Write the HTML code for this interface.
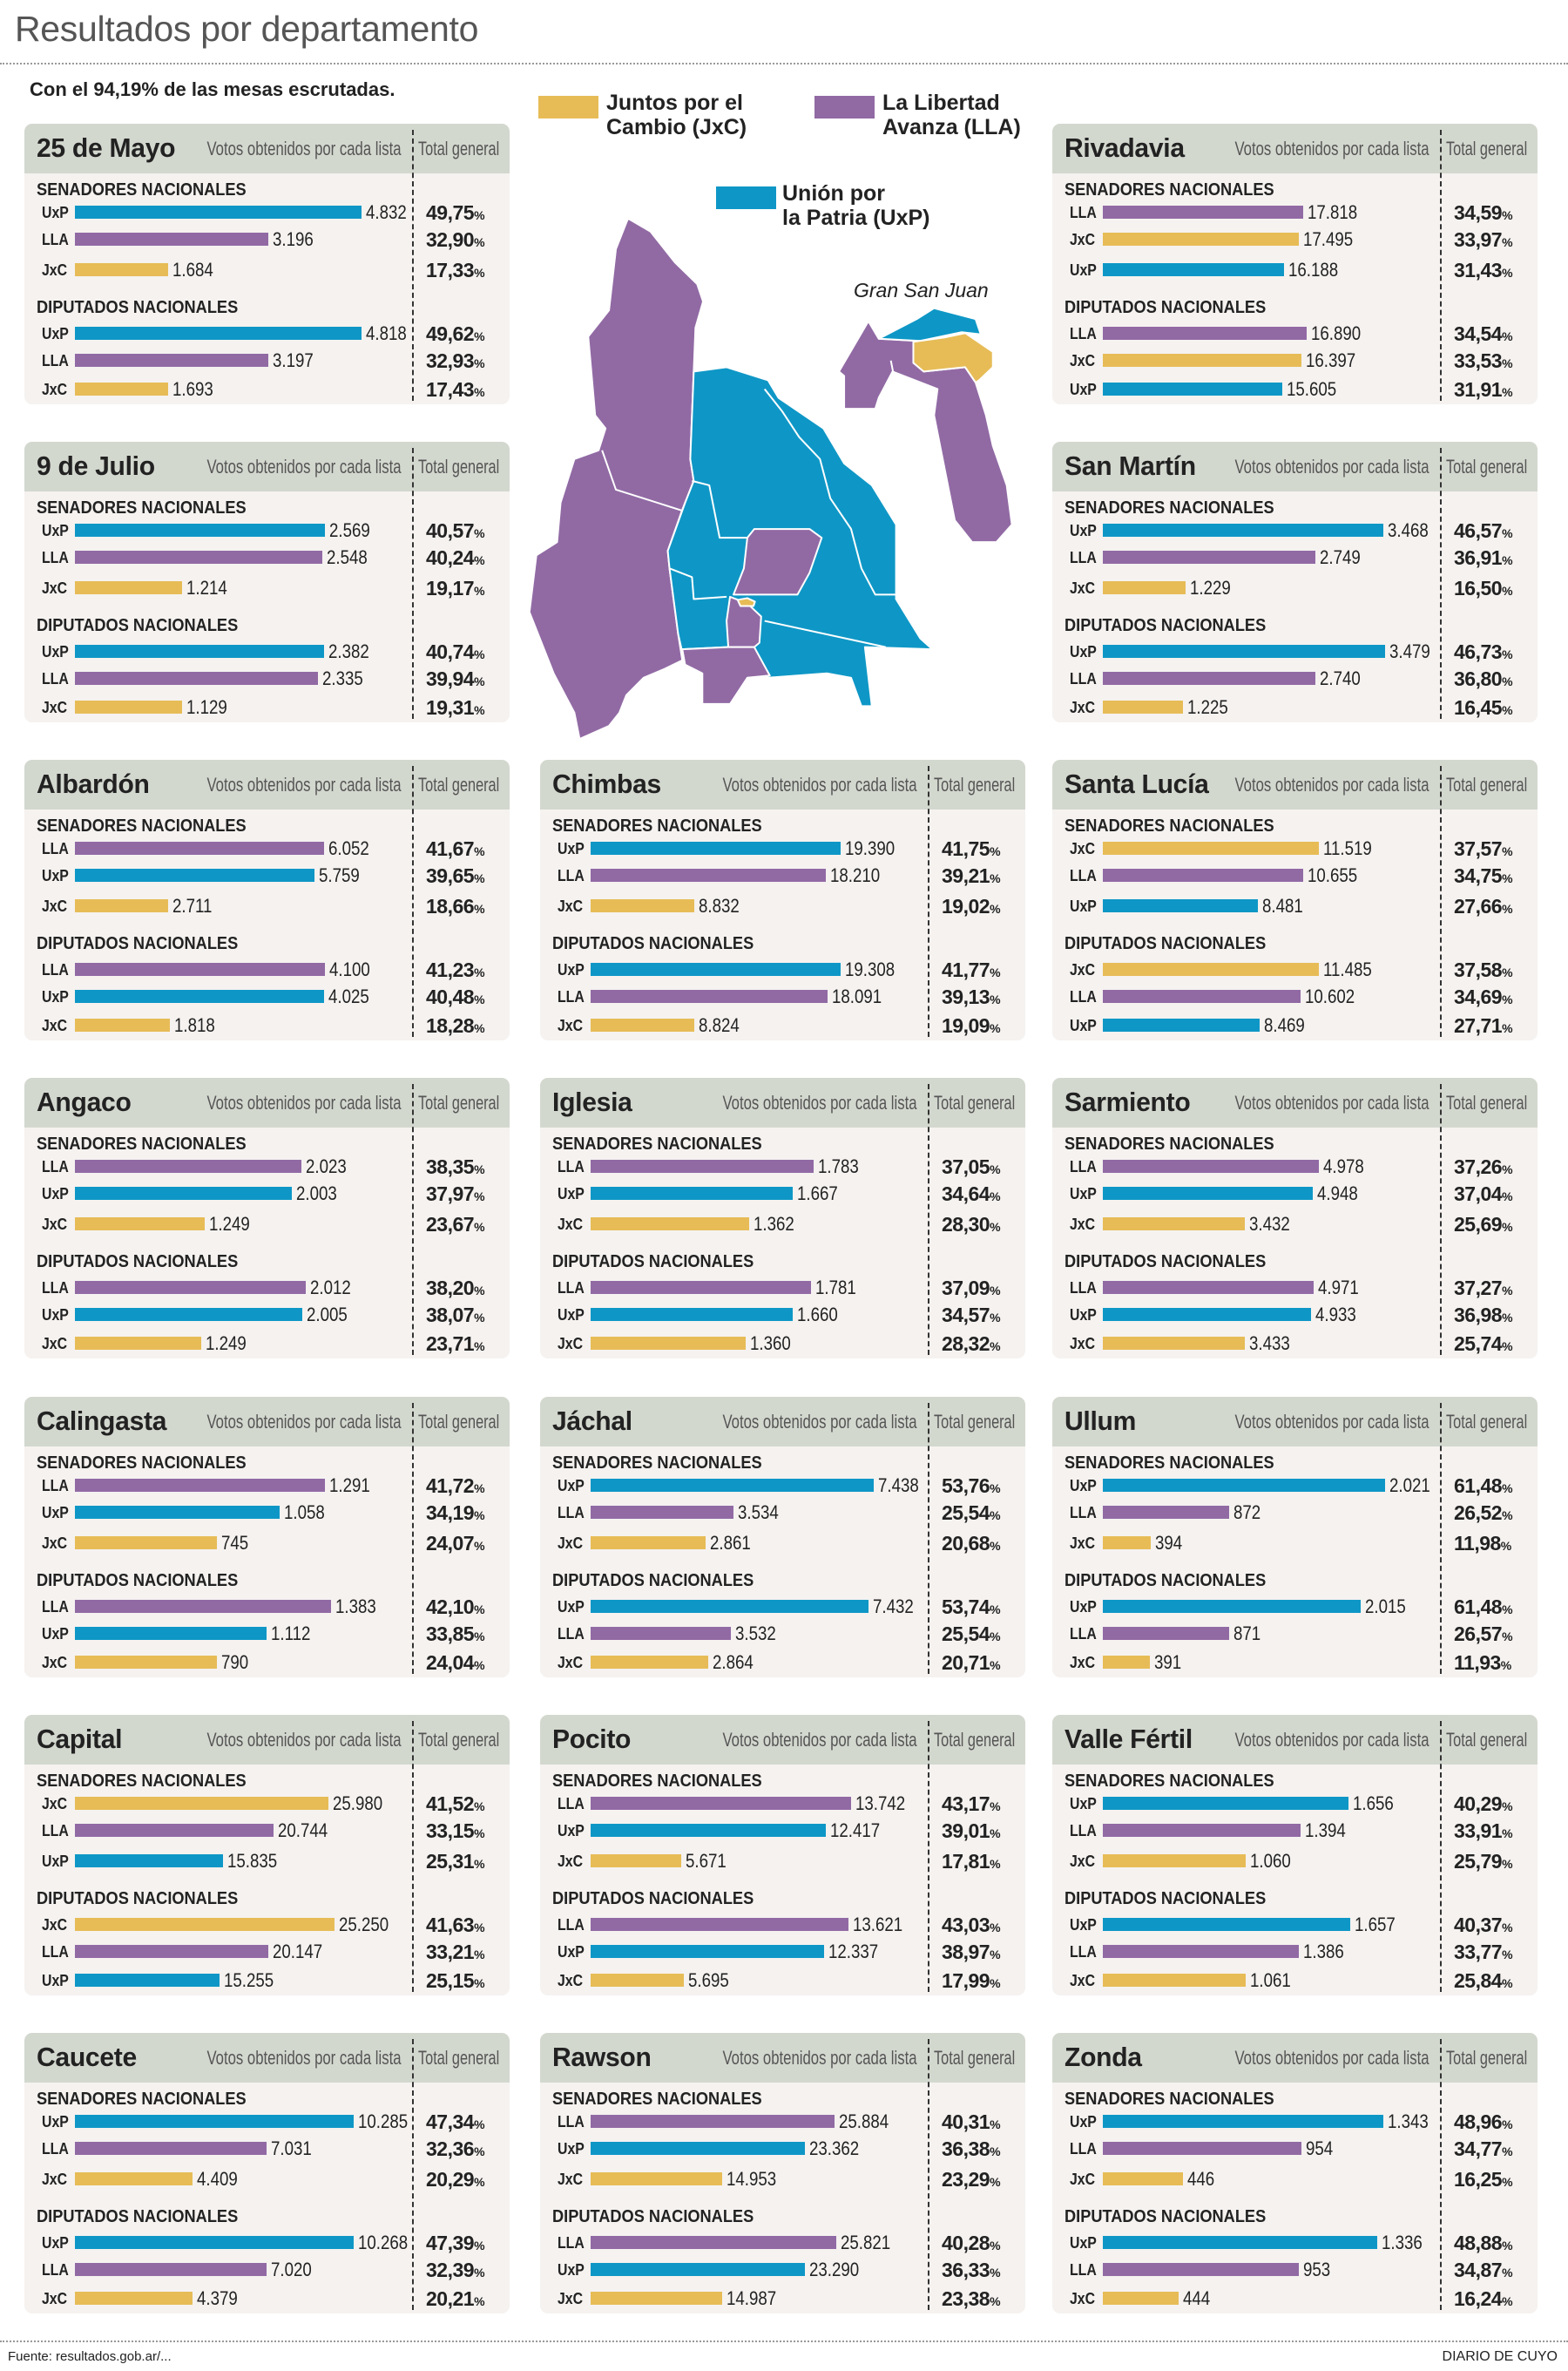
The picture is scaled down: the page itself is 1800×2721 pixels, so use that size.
<!DOCTYPE html>
<html><head><meta charset="utf-8">
<style>
*{margin:0;padding:0;box-sizing:border-box}
body{width:1800px;height:2721px;background:#fff;position:relative;overflow:hidden;font-family:"Liberation Sans",sans-serif;color:#222}
#title{position:absolute;left:17px;top:10px;font-size:41px;color:#555;letter-spacing:-0.3px}
.dot{position:absolute;left:0;width:1800px;border-top:2px dotted #999}
#sub{position:absolute;left:34px;top:90px;font-size:22px;font-weight:bold;color:#222}
.p{position:absolute;width:557px;height:322px;background:#f5f2f0;border-radius:9px;overflow:hidden}
.h{position:absolute;left:0;top:0;width:100%;height:57px;background:#d3d8cf}
.n{position:absolute;left:14px;top:10px;font-weight:bold;font-size:31px;color:#222;letter-spacing:-0.3px;transform:scaleX(0.97);transform-origin:left}
.v{position:absolute;right:124px;top:16px;font-size:22px;color:#555;transform:scaleX(0.76);transform-origin:right;white-space:nowrap}
.t{position:absolute;left:452px;top:16px;font-size:22px;color:#555;transform:scaleX(0.74);transform-origin:left;white-space:nowrap}
.d{position:absolute;left:445px;top:7px;bottom:4px;border-left:2px dashed #333}
.s{position:absolute;left:14px;font-weight:bold;font-size:20px;color:#222;line-height:20px;transform:scaleX(0.91);transform-origin:left;white-space:nowrap}
.s1{top:66px}.s2{top:201px}
.r{position:absolute;left:0;width:100%;height:22px}
.r1{top:91px}.r2{top:122px}.r3{top:157px}.r4{top:230px}.r5{top:261px}.r6{top:294px}
.r b{position:absolute;left:20px;top:1px;font-size:18px;line-height:20px;transform:scaleX(0.88);transform-origin:left}
.r i{position:absolute;left:58px;top:3px;height:15px;width:calc(var(--w)*1.731px)}
.r s{text-decoration:none;position:absolute;left:calc(63px + var(--w)*1.731px);top:0;font-size:22px;line-height:22px;color:#222;transform:scaleX(0.85);transform-origin:left}
.r em{font-style:normal;position:absolute;left:461px;top:0;font-weight:bold;font-size:23px;line-height:22px;letter-spacing:-0.5px}
.r em small{font-size:14px}
.u i{background:#0e97c6}.l i{background:#916aa4}.j i{background:#e7bc57}
.lg{position:absolute;font-weight:bold;font-size:25px;line-height:28px;color:#222}
.sw{position:absolute;height:26px;width:69px}
#foot1{position:absolute;left:9px;top:2696px;font-size:15px;color:#222}
#foot2{position:absolute;right:12px;top:2696px;font-size:16px;color:#222}
</style></head><body>
<div id="title">Resultados por departamento</div>
<div class="dot" style="top:72px"></div>
<div id="sub">Con el 94,19% de las mesas escrutadas.</div>

<div class="sw" style="left:618px;top:110px;background:#e7bc57"></div>
<div class="lg" style="left:696px;top:104px">Juntos por el<br>Cambio (JxC)</div>
<div class="sw" style="left:935px;top:110px;background:#916aa4"></div>
<div class="lg" style="left:1013px;top:104px">La Libertad<br>Avanza (LLA)</div>
<div class="sw" style="left:822px;top:214px;background:#0e97c6"></div>
<div class="lg" style="left:898px;top:208px">Unión por<br>la Patria (UxP)</div>
<div style="position:absolute;left:980px;top:320px;font-style:italic;font-size:23px;color:#222">Gran San Juan</div>

<svg style="position:absolute;left:0;top:0" width="1800" height="900">
<g transform="translate(580,75) scale(0.397,0.502)" stroke="#fff" stroke-width="2" stroke-linejoin="round">
<polygon vector-effect="non-scaling-stroke" fill="#916aa4" points="355,350 420,380 490,450 555,500 572,540 550,600 545,700 535,900 545,950 520,1000 510,1020 470,1110 475,1150 500,1300 512,1360 460,1380 400,1400 350,1440 330,1480 300,1510 215,1540 200,1480 140,1390 130,1370 70,1250 90,1120 150,1090 160,1000 200,900 270,880 290,830 260,800 240,620 300,560 320,420"/>
<polyline vector-effect="non-scaling-stroke" fill="none" points="280,880 320,970 400,990 520,1020"/>
<polygon vector-effect="non-scaling-stroke" fill="#0e97c6" points="545,700 640,690 760,720 790,760 920,830 980,910 1060,960 1130,1050 1130,1220 1200,1310 1235,1335 1040,1330 1060,1465 1030,1465 1000,1400 930,1390 760,1400 720,1330 640,1330 510,1335 500,1300 475,1150 470,1110 520,1000 545,950 535,900"/>
<polyline vector-effect="non-scaling-stroke" fill="none" points="750,740 800,790 850,850 910,900 940,990 1000,1060 1030,1150 1070,1210 1130,1210"/>
<polyline vector-effect="non-scaling-stroke" fill="none" points="540,950 590,960 620,1080 700,1080"/>
<polyline vector-effect="non-scaling-stroke" fill="none" points="475,1150 540,1170 545,1220 640,1215"/>
<polyline vector-effect="non-scaling-stroke" fill="none" points="750,1270 1100,1330"/>
<polygon vector-effect="non-scaling-stroke" fill="#916aa4" points="720,1060 880,1060 915,1080 880,1160 845,1210 720,1210 660,1210 690,1150 700,1080"/>
<polygon vector-effect="non-scaling-stroke" fill="#916aa4" points="650,1215 700,1230 740,1260 735,1320 720,1330 645,1330 640,1270"/>
<polygon vector-effect="non-scaling-stroke" fill="#916aa4" points="512,1335 645,1330 720,1330 765,1395 700,1400 650,1460 570,1460 570,1390 520,1370"/>
<polygon vector-effect="non-scaling-stroke" fill="#e7bc57" points="672,1222 700,1218 722,1226 718,1236 680,1236"/>
<polygon vector-effect="non-scaling-stroke" fill="#916aa4" points="965,700 1050,585 1080,625 1190,630 1180,680 1210,700 1330,690 1360,725 1390,800 1410,870 1450,960 1465,1050 1420,1090 1350,1090 1300,1040 1250,840 1240,800 1250,740 1120,700 1080,760 1070,785 980,785 980,710"/>
<polygon vector-effect="non-scaling-stroke" fill="#0e97c6" points="1080,625 1190,580 1240,555 1360,580 1375,615 1320,610 1200,630"/>
<polygon vector-effect="non-scaling-stroke" fill="#e7bc57" points="1180,632 1270,622 1330,612 1410,655 1410,690 1370,720 1360,725 1330,690 1210,700 1180,680"/>
<polyline vector-effect="non-scaling-stroke" fill="none" points="1115,675 1125,715 1250,745"/>
</g>
</svg>

<!-- Column 1 -->
<div class="p" style="left:28px;top:142px"><div class="h"></div><div class="n">25 de Mayo</div><div class="v">Votos obtenidos por cada lista</div><div class="t">Total general</div><div class="d"></div>
<div class="s s1">SENADORES NACIONALES</div><div class="s s2">DIPUTADOS NACIONALES</div>
<div class="r r1 u" style="--w:190"><b>UxP</b><i></i><s>4.832</s><em>49,75<small>%</small></em></div>
<div class="r r2 l" style="--w:128"><b>LLA</b><i></i><s>3.196</s><em>32,90<small>%</small></em></div>
<div class="r r3 j" style="--w:62"><b>JxC</b><i></i><s>1.684</s><em>17,33<small>%</small></em></div>
<div class="r r4 u" style="--w:190"><b>UxP</b><i></i><s>4.818</s><em>49,62<small>%</small></em></div>
<div class="r r5 l" style="--w:128"><b>LLA</b><i></i><s>3.197</s><em>32,93<small>%</small></em></div>
<div class="r r6 j" style="--w:62"><b>JxC</b><i></i><s>1.693</s><em>17,43<small>%</small></em></div>
</div>

<div class="p" style="left:28px;top:507px"><div class="h"></div><div class="n">9 de Julio</div><div class="v">Votos obtenidos por cada lista</div><div class="t">Total general</div><div class="d"></div>
<div class="s s1">SENADORES NACIONALES</div><div class="s s2">DIPUTADOS NACIONALES</div>
<div class="r r1 u" style="--w:166"><b>UxP</b><i></i><s>2.569</s><em>40,57<small>%</small></em></div>
<div class="r r2 l" style="--w:164"><b>LLA</b><i></i><s>2.548</s><em>40,24<small>%</small></em></div>
<div class="r r3 j" style="--w:71"><b>JxC</b><i></i><s>1.214</s><em>19,17<small>%</small></em></div>
<div class="r r4 u" style="--w:165"><b>UxP</b><i></i><s>2.382</s><em>40,74<small>%</small></em></div>
<div class="r r5 l" style="--w:161"><b>LLA</b><i></i><s>2.335</s><em>39,94<small>%</small></em></div>
<div class="r r6 j" style="--w:71"><b>JxC</b><i></i><s>1.129</s><em>19,31<small>%</small></em></div>
</div>

<div class="p" style="left:28px;top:872px"><div class="h"></div><div class="n">Albardón</div><div class="v">Votos obtenidos por cada lista</div><div class="t">Total general</div><div class="d"></div>
<div class="s s1">SENADORES NACIONALES</div><div class="s s2">DIPUTADOS NACIONALES</div>
<div class="r r1 l" style="--w:165"><b>LLA</b><i></i><s>6.052</s><em>41,67<small>%</small></em></div>
<div class="r r2 u" style="--w:159"><b>UxP</b><i></i><s>5.759</s><em>39,65<small>%</small></em></div>
<div class="r r3 j" style="--w:62"><b>JxC</b><i></i><s>2.711</s><em>18,66<small>%</small></em></div>
<div class="r r4 l" style="--w:166"><b>LLA</b><i></i><s>4.100</s><em>41,23<small>%</small></em></div>
<div class="r r5 u" style="--w:165"><b>UxP</b><i></i><s>4.025</s><em>40,48<small>%</small></em></div>
<div class="r r6 j" style="--w:63"><b>JxC</b><i></i><s>1.818</s><em>18,28<small>%</small></em></div>
</div>

<div class="p" style="left:28px;top:1237px"><div class="h"></div><div class="n">Angaco</div><div class="v">Votos obtenidos por cada lista</div><div class="t">Total general</div><div class="d"></div>
<div class="s s1">SENADORES NACIONALES</div><div class="s s2">DIPUTADOS NACIONALES</div>
<div class="r r1 l" style="--w:150"><b>LLA</b><i></i><s>2.023</s><em>38,35<small>%</small></em></div>
<div class="r r2 u" style="--w:144"><b>UxP</b><i></i><s>2.003</s><em>37,97<small>%</small></em></div>
<div class="r r3 j" style="--w:86"><b>JxC</b><i></i><s>1.249</s><em>23,67<small>%</small></em></div>
<div class="r r4 l" style="--w:153"><b>LLA</b><i></i><s>2.012</s><em>38,20<small>%</small></em></div>
<div class="r r5 u" style="--w:151"><b>UxP</b><i></i><s>2.005</s><em>38,07<small>%</small></em></div>
<div class="r r6 j" style="--w:84"><b>JxC</b><i></i><s>1.249</s><em>23,71<small>%</small></em></div>
</div>

<div class="p" style="left:28px;top:1603px"><div class="h"></div><div class="n">Calingasta</div><div class="v">Votos obtenidos por cada lista</div><div class="t">Total general</div><div class="d"></div>
<div class="s s1">SENADORES NACIONALES</div><div class="s s2">DIPUTADOS NACIONALES</div>
<div class="r r1 l" style="--w:166"><b>LLA</b><i></i><s>1.291</s><em>41,72<small>%</small></em></div>
<div class="r r2 u" style="--w:136"><b>UxP</b><i></i><s>1.058</s><em>34,19<small>%</small></em></div>
<div class="r r3 j" style="--w:94"><b>JxC</b><i></i><s>745</s><em>24,07<small>%</small></em></div>
<div class="r r4 l" style="--w:170"><b>LLA</b><i></i><s>1.383</s><em>42,10<small>%</small></em></div>
<div class="r r5 u" style="--w:127"><b>UxP</b><i></i><s>1.112</s><em>33,85<small>%</small></em></div>
<div class="r r6 j" style="--w:94"><b>JxC</b><i></i><s>790</s><em>24,04<small>%</small></em></div>
</div>

<div class="p" style="left:28px;top:1968px"><div class="h"></div><div class="n">Capital</div><div class="v">Votos obtenidos por cada lista</div><div class="t">Total general</div><div class="d"></div>
<div class="s s1">SENADORES NACIONALES</div><div class="s s2">DIPUTADOS NACIONALES</div>
<div class="r r1 j" style="--w:168"><b>JxC</b><i></i><s>25.980</s><em>41,52<small>%</small></em></div>
<div class="r r2 l" style="--w:132"><b>LLA</b><i></i><s>20.744</s><em>33,15<small>%</small></em></div>
<div class="r r3 u" style="--w:98"><b>UxP</b><i></i><s>15.835</s><em>25,31<small>%</small></em></div>
<div class="r r4 j" style="--w:172"><b>JxC</b><i></i><s>25.250</s><em>41,63<small>%</small></em></div>
<div class="r r5 l" style="--w:128"><b>LLA</b><i></i><s>20.147</s><em>33,21<small>%</small></em></div>
<div class="r r6 u" style="--w:96"><b>UxP</b><i></i><s>15.255</s><em>25,15<small>%</small></em></div>
</div>

<div class="p" style="left:28px;top:2333px"><div class="h"></div><div class="n">Caucete</div><div class="v">Votos obtenidos por cada lista</div><div class="t">Total general</div><div class="d"></div>
<div class="s s1">SENADORES NACIONALES</div><div class="s s2">DIPUTADOS NACIONALES</div>
<div class="r r1 u" style="--w:185"><b>UxP</b><i></i><s>10.285</s><em>47,34<small>%</small></em></div>
<div class="r r2 l" style="--w:127"><b>LLA</b><i></i><s>7.031</s><em>32,36<small>%</small></em></div>
<div class="r r3 j" style="--w:78"><b>JxC</b><i></i><s>4.409</s><em>20,29<small>%</small></em></div>
<div class="r r4 u" style="--w:185"><b>UxP</b><i></i><s>10.268</s><em>47,39<small>%</small></em></div>
<div class="r r5 l" style="--w:127"><b>LLA</b><i></i><s>7.020</s><em>32,39<small>%</small></em></div>
<div class="r r6 j" style="--w:78"><b>JxC</b><i></i><s>4.379</s><em>20,21<small>%</small></em></div>
</div>

<!-- Column 2 -->
<div class="p" style="left:620px;top:872px"><div class="h"></div><div class="n">Chimbas</div><div class="v">Votos obtenidos por cada lista</div><div class="t">Total general</div><div class="d"></div>
<div class="s s1">SENADORES NACIONALES</div><div class="s s2">DIPUTADOS NACIONALES</div>
<div class="r r1 u" style="--w:166"><b>UxP</b><i></i><s>19.390</s><em>41,75<small>%</small></em></div>
<div class="r r2 l" style="--w:156"><b>LLA</b><i></i><s>18.210</s><em>39,21<small>%</small></em></div>
<div class="r r3 j" style="--w:69"><b>JxC</b><i></i><s>8.832</s><em>19,02<small>%</small></em></div>
<div class="r r4 u" style="--w:166"><b>UxP</b><i></i><s>19.308</s><em>41,77<small>%</small></em></div>
<div class="r r5 l" style="--w:157"><b>LLA</b><i></i><s>18.091</s><em>39,13<small>%</small></em></div>
<div class="r r6 j" style="--w:69"><b>JxC</b><i></i><s>8.824</s><em>19,09<small>%</small></em></div>
</div>

<div class="p" style="left:620px;top:1237px"><div class="h"></div><div class="n">Iglesia</div><div class="v">Votos obtenidos por cada lista</div><div class="t">Total general</div><div class="d"></div>
<div class="s s1">SENADORES NACIONALES</div><div class="s s2">DIPUTADOS NACIONALES</div>
<div class="r r1 l" style="--w:148"><b>LLA</b><i></i><s>1.783</s><em>37,05<small>%</small></em></div>
<div class="r r2 u" style="--w:134"><b>UxP</b><i></i><s>1.667</s><em>34,64<small>%</small></em></div>
<div class="r r3 j" style="--w:105"><b>JxC</b><i></i><s>1.362</s><em>28,30<small>%</small></em></div>
<div class="r r4 l" style="--w:146"><b>LLA</b><i></i><s>1.781</s><em>37,09<small>%</small></em></div>
<div class="r r5 u" style="--w:134"><b>UxP</b><i></i><s>1.660</s><em>34,57<small>%</small></em></div>
<div class="r r6 j" style="--w:103"><b>JxC</b><i></i><s>1.360</s><em>28,32<small>%</small></em></div>
</div>

<div class="p" style="left:620px;top:1603px"><div class="h"></div><div class="n">Jáchal</div><div class="v">Votos obtenidos por cada lista</div><div class="t">Total general</div><div class="d"></div>
<div class="s s1">SENADORES NACIONALES</div><div class="s s2">DIPUTADOS NACIONALES</div>
<div class="r r1 u" style="--w:188"><b>UxP</b><i></i><s>7.438</s><em>53,76<small>%</small></em></div>
<div class="r r2 l" style="--w:95"><b>LLA</b><i></i><s>3.534</s><em>25,54<small>%</small></em></div>
<div class="r r3 j" style="--w:76"><b>JxC</b><i></i><s>2.861</s><em>20,68<small>%</small></em></div>
<div class="r r4 u" style="--w:184"><b>UxP</b><i></i><s>7.432</s><em>53,74<small>%</small></em></div>
<div class="r r5 l" style="--w:93"><b>LLA</b><i></i><s>3.532</s><em>25,54<small>%</small></em></div>
<div class="r r6 j" style="--w:78"><b>JxC</b><i></i><s>2.864</s><em>20,71<small>%</small></em></div>
</div>

<div class="p" style="left:620px;top:1968px"><div class="h"></div><div class="n">Pocito</div><div class="v">Votos obtenidos por cada lista</div><div class="t">Total general</div><div class="d"></div>
<div class="s s1">SENADORES NACIONALES</div><div class="s s2">DIPUTADOS NACIONALES</div>
<div class="r r1 l" style="--w:173"><b>LLA</b><i></i><s>13.742</s><em>43,17<small>%</small></em></div>
<div class="r r2 u" style="--w:156"><b>UxP</b><i></i><s>12.417</s><em>39,01<small>%</small></em></div>
<div class="r r3 j" style="--w:60"><b>JxC</b><i></i><s>5.671</s><em>17,81<small>%</small></em></div>
<div class="r r4 l" style="--w:171"><b>LLA</b><i></i><s>13.621</s><em>43,03<small>%</small></em></div>
<div class="r r5 u" style="--w:155"><b>UxP</b><i></i><s>12.337</s><em>38,97<small>%</small></em></div>
<div class="r r6 j" style="--w:62"><b>JxC</b><i></i><s>5.695</s><em>17,99<small>%</small></em></div>
</div>

<div class="p" style="left:620px;top:2333px"><div class="h"></div><div class="n">Rawson</div><div class="v">Votos obtenidos por cada lista</div><div class="t">Total general</div><div class="d"></div>
<div class="s s1">SENADORES NACIONALES</div><div class="s s2">DIPUTADOS NACIONALES</div>
<div class="r r1 l" style="--w:162"><b>LLA</b><i></i><s>25.884</s><em>40,31<small>%</small></em></div>
<div class="r r2 u" style="--w:142"><b>UxP</b><i></i><s>23.362</s><em>36,38<small>%</small></em></div>
<div class="r r3 j" style="--w:87"><b>JxC</b><i></i><s>14.953</s><em>23,29<small>%</small></em></div>
<div class="r r4 l" style="--w:163"><b>LLA</b><i></i><s>25.821</s><em>40,28<small>%</small></em></div>
<div class="r r5 u" style="--w:142"><b>UxP</b><i></i><s>23.290</s><em>36,33<small>%</small></em></div>
<div class="r r6 j" style="--w:87"><b>JxC</b><i></i><s>14.987</s><em>23,38<small>%</small></em></div>
</div>

<!-- Column 3 -->
<div class="p" style="left:1208px;top:142px"><div class="h"></div><div class="n">Rivadavia</div><div class="v">Votos obtenidos por cada lista</div><div class="t">Total general</div><div class="d"></div>
<div class="s s1">SENADORES NACIONALES</div><div class="s s2">DIPUTADOS NACIONALES</div>
<div class="r r1 l" style="--w:133"><b>LLA</b><i></i><s>17.818</s><em>34,59<small>%</small></em></div>
<div class="r r2 j" style="--w:130"><b>JxC</b><i></i><s>17.495</s><em>33,97<small>%</small></em></div>
<div class="r r3 u" style="--w:120"><b>UxP</b><i></i><s>16.188</s><em>31,43<small>%</small></em></div>
<div class="r r4 l" style="--w:135"><b>LLA</b><i></i><s>16.890</s><em>34,54<small>%</small></em></div>
<div class="r r5 j" style="--w:132"><b>JxC</b><i></i><s>16.397</s><em>33,53<small>%</small></em></div>
<div class="r r6 u" style="--w:119"><b>UxP</b><i></i><s>15.605</s><em>31,91<small>%</small></em></div>
</div>

<div class="p" style="left:1208px;top:507px"><div class="h"></div><div class="n">San Martín</div><div class="v">Votos obtenidos por cada lista</div><div class="t">Total general</div><div class="d"></div>
<div class="s s1">SENADORES NACIONALES</div><div class="s s2">DIPUTADOS NACIONALES</div>
<div class="r r1 u" style="--w:186"><b>UxP</b><i></i><s>3.468</s><em>46,57<small>%</small></em></div>
<div class="r r2 l" style="--w:141"><b>LLA</b><i></i><s>2.749</s><em>36,91<small>%</small></em></div>
<div class="r r3 j" style="--w:55"><b>JxC</b><i></i><s>1.229</s><em>16,50<small>%</small></em></div>
<div class="r r4 u" style="--w:187"><b>UxP</b><i></i><s>3.479</s><em>46,73<small>%</small></em></div>
<div class="r r5 l" style="--w:141"><b>LLA</b><i></i><s>2.740</s><em>36,80<small>%</small></em></div>
<div class="r r6 j" style="--w:53"><b>JxC</b><i></i><s>1.225</s><em>16,45<small>%</small></em></div>
</div>

<div class="p" style="left:1208px;top:872px"><div class="h"></div><div class="n">Santa Lucía</div><div class="v">Votos obtenidos por cada lista</div><div class="t">Total general</div><div class="d"></div>
<div class="s s1">SENADORES NACIONALES</div><div class="s s2">DIPUTADOS NACIONALES</div>
<div class="r r1 j" style="--w:143"><b>JxC</b><i></i><s>11.519</s><em>37,57<small>%</small></em></div>
<div class="r r2 l" style="--w:133"><b>LLA</b><i></i><s>10.655</s><em>34,75<small>%</small></em></div>
<div class="r r3 u" style="--w:103"><b>UxP</b><i></i><s>8.481</s><em>27,66<small>%</small></em></div>
<div class="r r4 j" style="--w:143"><b>JxC</b><i></i><s>11.485</s><em>37,58<small>%</small></em></div>
<div class="r r5 l" style="--w:131"><b>LLA</b><i></i><s>10.602</s><em>34,69<small>%</small></em></div>
<div class="r r6 u" style="--w:104"><b>UxP</b><i></i><s>8.469</s><em>27,71<small>%</small></em></div>
</div>

<div class="p" style="left:1208px;top:1237px"><div class="h"></div><div class="n">Sarmiento</div><div class="v">Votos obtenidos por cada lista</div><div class="t">Total general</div><div class="d"></div>
<div class="s s1">SENADORES NACIONALES</div><div class="s s2">DIPUTADOS NACIONALES</div>
<div class="r r1 l" style="--w:143"><b>LLA</b><i></i><s>4.978</s><em>37,26<small>%</small></em></div>
<div class="r r2 u" style="--w:139"><b>UxP</b><i></i><s>4.948</s><em>37,04<small>%</small></em></div>
<div class="r r3 j" style="--w:94"><b>JxC</b><i></i><s>3.432</s><em>25,69<small>%</small></em></div>
<div class="r r4 l" style="--w:140"><b>LLA</b><i></i><s>4.971</s><em>37,27<small>%</small></em></div>
<div class="r r5 u" style="--w:138"><b>UxP</b><i></i><s>4.933</s><em>36,98<small>%</small></em></div>
<div class="r r6 j" style="--w:94"><b>JxC</b><i></i><s>3.433</s><em>25,74<small>%</small></em></div>
</div>

<div class="p" style="left:1208px;top:1603px"><div class="h"></div><div class="n">Ullum</div><div class="v">Votos obtenidos por cada lista</div><div class="t">Total general</div><div class="d"></div>
<div class="s s1">SENADORES NACIONALES</div><div class="s s2">DIPUTADOS NACIONALES</div>
<div class="r r1 u" style="--w:187"><b>UxP</b><i></i><s>2.021</s><em>61,48<small>%</small></em></div>
<div class="r r2 l" style="--w:84"><b>LLA</b><i></i><s>872</s><em>26,52<small>%</small></em></div>
<div class="r r3 j" style="--w:32"><b>JxC</b><i></i><s>394</s><em>11,98<small>%</small></em></div>
<div class="r r4 u" style="--w:171"><b>UxP</b><i></i><s>2.015</s><em>61,48<small>%</small></em></div>
<div class="r r5 l" style="--w:84"><b>LLA</b><i></i><s>871</s><em>26,57<small>%</small></em></div>
<div class="r r6 j" style="--w:31"><b>JxC</b><i></i><s>391</s><em>11,93<small>%</small></em></div>
</div>

<div class="p" style="left:1208px;top:1968px"><div class="h"></div><div class="n">Valle Fértil</div><div class="v">Votos obtenidos por cada lista</div><div class="t">Total general</div><div class="d"></div>
<div class="s s1">SENADORES NACIONALES</div><div class="s s2">DIPUTADOS NACIONALES</div>
<div class="r r1 u" style="--w:163"><b>UxP</b><i></i><s>1.656</s><em>40,29<small>%</small></em></div>
<div class="r r2 l" style="--w:131"><b>LLA</b><i></i><s>1.394</s><em>33,91<small>%</small></em></div>
<div class="r r3 j" style="--w:95"><b>JxC</b><i></i><s>1.060</s><em>25,79<small>%</small></em></div>
<div class="r r4 u" style="--w:164"><b>UxP</b><i></i><s>1.657</s><em>40,37<small>%</small></em></div>
<div class="r r5 l" style="--w:130"><b>LLA</b><i></i><s>1.386</s><em>33,77<small>%</small></em></div>
<div class="r r6 j" style="--w:95"><b>JxC</b><i></i><s>1.061</s><em>25,84<small>%</small></em></div>
</div>

<div class="p" style="left:1208px;top:2333px"><div class="h"></div><div class="n">Zonda</div><div class="v">Votos obtenidos por cada lista</div><div class="t">Total general</div><div class="d"></div>
<div class="s s1">SENADORES NACIONALES</div><div class="s s2">DIPUTADOS NACIONALES</div>
<div class="r r1 u" style="--w:186"><b>UxP</b><i></i><s>1.343</s><em>48,96<small>%</small></em></div>
<div class="r r2 l" style="--w:132"><b>LLA</b><i></i><s>954</s><em>34,77<small>%</small></em></div>
<div class="r r3 j" style="--w:53"><b>JxC</b><i></i><s>446</s><em>16,25<small>%</small></em></div>
<div class="r r4 u" style="--w:182"><b>UxP</b><i></i><s>1.336</s><em>48,88<small>%</small></em></div>
<div class="r r5 l" style="--w:130"><b>LLA</b><i></i><s>953</s><em>34,87<small>%</small></em></div>
<div class="r r6 j" style="--w:50"><b>JxC</b><i></i><s>444</s><em>16,24<small>%</small></em></div>
</div>

<div class="dot" style="top:2686px"></div>
<div id="foot1">Fuente: resultados.gob.ar/...</div>
<div id="foot2">DIARIO DE CUYO</div>
</body></html>
